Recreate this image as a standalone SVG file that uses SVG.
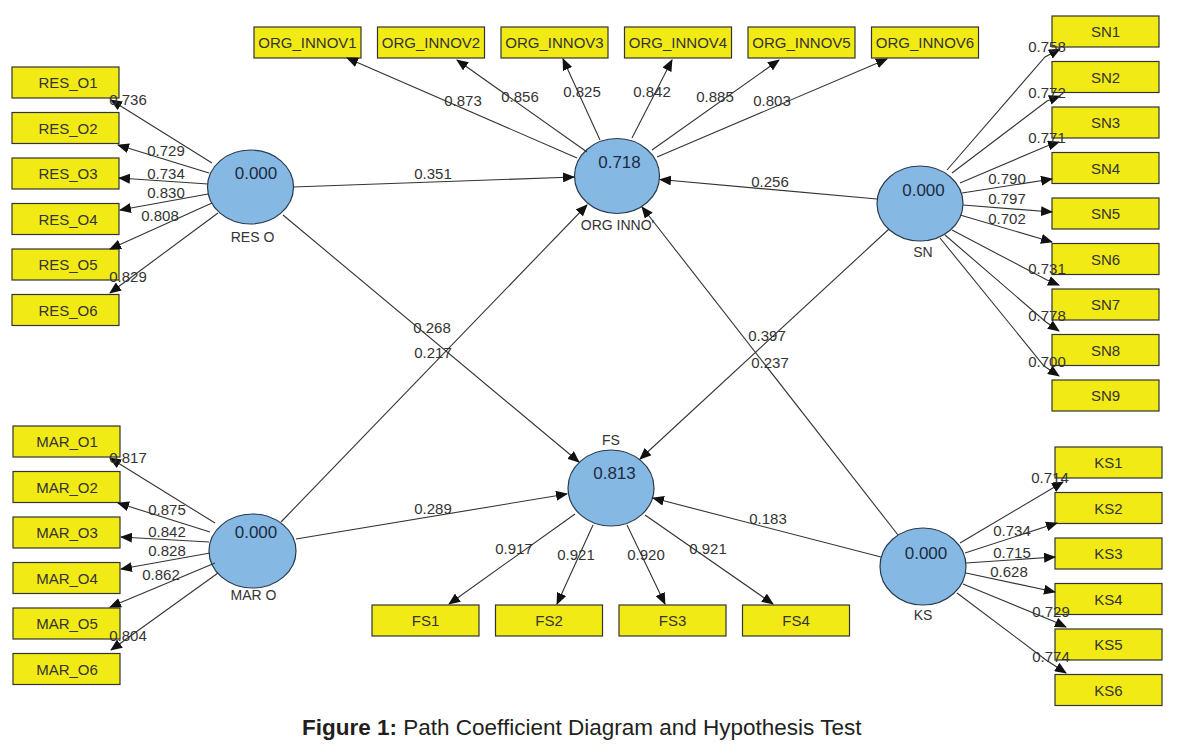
<svg xmlns="http://www.w3.org/2000/svg" width="1177" height="754" viewBox="0 0 1177 754">
<style>
.box{fill:#f2ea14;stroke:#333;stroke-width:1.2}
.lv{fill:#85b9e4;stroke:#2a3a4e;stroke-width:1.2}
.bt{font-family:"Liberation Sans",Arial,sans-serif;font-size:15px;fill:#333;text-anchor:middle;dominant-baseline:central}
.val{font-family:"Liberation Sans",Arial,sans-serif;font-size:17px;fill:#1d2b40;text-anchor:middle;dominant-baseline:central}
.nm{font-family:"Liberation Sans",Arial,sans-serif;font-size:14px;fill:#333;text-anchor:middle;dominant-baseline:central}
.num{font-family:"Liberation Sans",Arial,sans-serif;font-size:15px;fill:#333;text-anchor:middle;dominant-baseline:central}
.c{fill:none;stroke:#333;stroke-width:1.1;marker-end:url(#ah)}
.cap{font-family:"Liberation Sans",Arial,sans-serif;font-size:22.5px;fill:#231f20}
</style>
<defs>
<marker id="ah" markerWidth="12" markerHeight="10" refX="11" refY="5" orient="auto" markerUnits="userSpaceOnUse">
<path d="M0,0 L12,5 L0,10 z" fill="#111"/>
</marker>
</defs>
<rect width="1177" height="754" fill="#fff"/>

<!-- RES_O indicators -->
<g id="RES_O1"><rect class="box" x="12" y="67" width="107" height="31"/><text class="bt" x="68" y="82.5">RES_O1</text></g>
<g id="RES_O2"><rect class="box" x="12" y="112.5" width="107" height="31"/><text class="bt" x="68" y="128">RES_O2</text></g>
<g id="RES_O3"><rect class="box" x="12" y="158" width="107" height="31"/><text class="bt" x="68" y="173.5">RES_O3</text></g>
<g id="RES_O4"><rect class="box" x="12" y="203.5" width="107" height="31"/><text class="bt" x="68" y="219">RES_O4</text></g>
<g id="RES_O5"><rect class="box" x="12" y="249" width="107" height="31"/><text class="bt" x="68" y="264.5">RES_O5</text></g>
<g id="RES_O6"><rect class="box" x="12" y="294.5" width="107" height="31"/><text class="bt" x="68" y="310">RES_O6</text></g>

<!-- MAR_O indicators -->
<g id="MAR_O1"><rect class="box" x="13" y="426" width="107" height="31"/><text class="bt" x="67" y="441.5">MAR_O1</text></g>
<g id="MAR_O2"><rect class="box" x="13" y="471.5" width="107" height="31"/><text class="bt" x="67" y="487">MAR_O2</text></g>
<g id="MAR_O3"><rect class="box" x="13" y="517" width="107" height="31"/><text class="bt" x="67" y="532.5">MAR_O3</text></g>
<g id="MAR_O4"><rect class="box" x="13" y="562.5" width="107" height="31"/><text class="bt" x="67" y="578">MAR_O4</text></g>
<g id="MAR_O5"><rect class="box" x="13" y="608" width="107" height="31"/><text class="bt" x="67" y="623.5">MAR_O5</text></g>
<g id="MAR_O6"><rect class="box" x="13" y="653.5" width="107" height="31"/><text class="bt" x="67" y="669">MAR_O6</text></g>

<!-- ORG_INNOV indicators -->
<g id="ORG_INNOV1"><rect class="box" x="254" y="27" width="107" height="31"/><text class="bt" x="307.5" y="42.5">ORG_INNOV1</text></g>
<g id="ORG_INNOV2"><rect class="box" x="377.5" y="27" width="107" height="31"/><text class="bt" x="431" y="42.5">ORG_INNOV2</text></g>
<g id="ORG_INNOV3"><rect class="box" x="501" y="27" width="107" height="31"/><text class="bt" x="554.5" y="42.5">ORG_INNOV3</text></g>
<g id="ORG_INNOV4"><rect class="box" x="624.5" y="27" width="107" height="31"/><text class="bt" x="678" y="42.5">ORG_INNOV4</text></g>
<g id="ORG_INNOV5"><rect class="box" x="748" y="27" width="107" height="31"/><text class="bt" x="801.5" y="42.5">ORG_INNOV5</text></g>
<g id="ORG_INNOV6"><rect class="box" x="871.5" y="27" width="107" height="31"/><text class="bt" x="925" y="42.5">ORG_INNOV6</text></g>

<!-- SN indicators -->
<g id="SN1"><rect class="box" x="1052" y="16" width="107" height="31"/><text class="bt" x="1105.5" y="31.5">SN1</text></g>
<g id="SN2"><rect class="box" x="1052" y="61.5" width="107" height="31"/><text class="bt" x="1105.5" y="77">SN2</text></g>
<g id="SN3"><rect class="box" x="1052" y="107" width="107" height="31"/><text class="bt" x="1105.5" y="122.5">SN3</text></g>
<g id="SN4"><rect class="box" x="1052" y="152.5" width="107" height="31"/><text class="bt" x="1105.5" y="168">SN4</text></g>
<g id="SN5"><rect class="box" x="1052" y="198" width="107" height="31"/><text class="bt" x="1105.5" y="213.5">SN5</text></g>
<g id="SN6"><rect class="box" x="1052" y="243.5" width="107" height="31"/><text class="bt" x="1105.5" y="259">SN6</text></g>
<g id="SN7"><rect class="box" x="1052" y="289" width="107" height="31"/><text class="bt" x="1105.5" y="304.5">SN7</text></g>
<g id="SN8"><rect class="box" x="1052" y="334.5" width="107" height="31"/><text class="bt" x="1105.5" y="350">SN8</text></g>
<g id="SN9"><rect class="box" x="1052" y="380" width="107" height="31"/><text class="bt" x="1105.5" y="395.5">SN9</text></g>

<!-- FS indicators -->
<g id="FS1"><rect class="box" x="372" y="605" width="107" height="31"/><text class="bt" x="425.5" y="620.5">FS1</text></g>
<g id="FS2"><rect class="box" x="495.5" y="605" width="107" height="31"/><text class="bt" x="549" y="620.5">FS2</text></g>
<g id="FS3"><rect class="box" x="619" y="605" width="107" height="31"/><text class="bt" x="672.5" y="620.5">FS3</text></g>
<g id="FS4"><rect class="box" x="742.5" y="605" width="107" height="31"/><text class="bt" x="796" y="620.5">FS4</text></g>

<!-- KS indicators -->
<g id="KS1"><rect class="box" x="1055" y="447" width="107" height="31"/><text class="bt" x="1108.5" y="462.5">KS1</text></g>
<g id="KS2"><rect class="box" x="1055" y="492.5" width="107" height="31"/><text class="bt" x="1108.5" y="508">KS2</text></g>
<g id="KS3"><rect class="box" x="1055" y="538" width="107" height="31"/><text class="bt" x="1108.5" y="553.5">KS3</text></g>
<g id="KS4"><rect class="box" x="1055" y="583.5" width="107" height="31"/><text class="bt" x="1108.5" y="599">KS4</text></g>
<g id="KS5"><rect class="box" x="1055" y="629" width="107" height="31"/><text class="bt" x="1108.5" y="644.5">KS5</text></g>
<g id="KS6"><rect class="box" x="1055" y="674.5" width="107" height="31"/><text class="bt" x="1108.5" y="690">KS6</text></g>

<!-- Latent variables -->
<g id="RES_O"><ellipse class="lv" cx="250.5" cy="187" rx="43" ry="37"/><text class="val" x="256" y="173">0.000</text><text class="nm" x="252.5" y="237">RES O</text></g>
<g id="ORG_INNOV"><ellipse class="lv" cx="617" cy="176" rx="42.5" ry="37.5"/><text class="val" x="619.5" y="162">0.718</text><text class="nm" x="617.5" y="224.5">ORG INNO'</text></g>
<g id="SN"><ellipse class="lv" cx="920" cy="203.5" rx="43" ry="37.5"/><text class="val" x="923.5" y="190">0.000</text><text class="nm" x="923" y="252">SN</text></g>
<g id="MAR_O"><ellipse class="lv" cx="252.5" cy="551" rx="43.5" ry="37"/><text class="val" x="256" y="532">0.000</text><text class="nm" x="253.5" y="595">MAR O</text></g>
<g id="FS"><ellipse class="lv" cx="611" cy="488" rx="43" ry="38"/><text class="val" x="614.5" y="473.5">0.813</text><text class="nm" x="611" y="440">FS</text></g>
<g id="KS"><ellipse class="lv" cx="923" cy="566.5" rx="43" ry="38.5"/><text class="val" x="926" y="553">0.000</text><text class="nm" x="923" y="615">KS</text></g>

<g id="connectors">
<!-- structural paths -->
<path class="c" d="M293,187 L574,177"/>
<path class="c" d="M877,199 L660,179.5"/>
<path class="c" d="M283,215 L579,462"/>
<path class="c" d="M281,522 L587,205"/>
<path class="c" d="M889,229 L640,459"/>
<path class="c" d="M898,535 L642,207"/>
<path class="c" d="M296,539 L567,494"/>
<path class="c" d="M881,557 L653,498"/>
<!-- RES_O -->
<path class="c" d="M212,163 L111,100"/>
<path class="c" d="M209,173 L118,145"/>
<path class="c" d="M208,184 L119,178"/>
<path class="c" d="M208,194 L120,210"/>
<path class="c" d="M212,203 L110,249"/>
<path class="c" d="M218,213 L110,293"/>
<!-- MAR_O -->
<path class="c" d="M215,523 L110,458"/>
<path class="c" d="M210,532 L118,503"/>
<path class="c" d="M209,542 L121,537"/>
<path class="c" d="M210,553 L121,569"/>
<path class="c" d="M215,563 L110,607"/>
<path class="c" d="M218,573 L111,650"/>
<!-- ORG_INNOV -->
<path class="c" d="M577,158 L347,58"/>
<path class="c" d="M587,152 L457,60"/>
<path class="c" d="M600,140 L563,59"/>
<path class="c" d="M632,138 L672,60"/>
<path class="c" d="M652,150 L779,60"/>
<path class="c" d="M657,157 L887,59"/>
<!-- SN -->
<path class="c" d="M947,170 L1045,57 L1060,49"/>
<path class="c" d="M952,173 L1047,101 L1060,96"/>
<path class="c" d="M960,183 L1047,146 L1059,142"/>
<path class="c" d="M962,193 L1052,179"/>
<path class="c" d="M963,205 L1052,212"/>
<path class="c" d="M960,215 L1052,242"/>
<path class="c" d="M952,230 L1047,280 L1059,285"/>
<path class="c" d="M945,235 L1046,322 L1059,331"/>
<path class="c" d="M940,238 L1044,366 L1059,376"/>
<!-- FS -->
<path class="c" d="M575,514 L449,604"/>
<path class="c" d="M593,525 L557,604"/>
<path class="c" d="M627,525 L665,604"/>
<path class="c" d="M645,515 L773,604"/>
<!-- KS -->
<path class="c" d="M960,543 L1063,482"/>
<path class="c" d="M965,553 L1057,523"/>
<path class="c" d="M966,563 L1055,557"/>
<path class="c" d="M966,573 L1055,592"/>
<path class="c" d="M963,584 L1053,621 L1066,627"/>
<path class="c" d="M957,593 L1046,660 L1066,673"/>

<!-- labels -->
<text class="num" x="433" y="173">0.351</text>
<text class="num" x="770" y="181">0.256</text>
<text class="num" x="432" y="327">0.268</text>
<text class="num" x="433" y="352">0.217</text>
<text class="num" x="767" y="335">0.397</text>
<text class="num" x="770" y="362">0.237</text>
<text class="num" x="433" y="508">0.289</text>
<text class="num" x="768" y="518">0.183</text>

<text class="num" x="128" y="99">0.736</text>
<text class="num" x="166" y="150">0.729</text>
<text class="num" x="166" y="173">0.734</text>
<text class="num" x="166" y="192">0.830</text>
<text class="num" x="160" y="215">0.808</text>
<text class="num" x="128" y="276">0.829</text>

<text class="num" x="128" y="457">0.817</text>
<text class="num" x="167" y="509">0.875</text>
<text class="num" x="167" y="531">0.842</text>
<text class="num" x="167" y="550">0.828</text>
<text class="num" x="161" y="574">0.862</text>
<text class="num" x="128" y="635">0.804</text>

<text class="num" x="463" y="100">0.873</text>
<text class="num" x="520" y="96">0.856</text>
<text class="num" x="582" y="91">0.825</text>
<text class="num" x="652" y="91">0.842</text>
<text class="num" x="715" y="96">0.885</text>
<text class="num" x="772" y="100">0.803</text>

<text class="num" x="1047" y="46">0.758</text>
<text class="num" x="1047" y="92">0.772</text>
<text class="num" x="1047" y="137">0.771</text>
<text class="num" x="1007" y="178">0.790</text>
<text class="num" x="1007" y="198">0.797</text>
<text class="num" x="1007" y="218">0.702</text>
<text class="num" x="1047" y="268">0.731</text>
<text class="num" x="1047" y="315">0.778</text>
<text class="num" x="1047" y="361">0.700</text>

<text class="num" x="514" y="548">0.917</text>
<text class="num" x="576" y="554">0.921</text>
<text class="num" x="646" y="554">0.920</text>
<text class="num" x="708" y="548">0.921</text>

<text class="num" x="1050" y="477">0.714</text>
<text class="num" x="1012" y="530">0.734</text>
<text class="num" x="1012" y="552">0.715</text>
<text class="num" x="1009" y="571">0.628</text>
<text class="num" x="1051" y="611">0.729</text>
<text class="num" x="1051" y="656">0.774</text>
</g>

<text class="cap" x="302" y="735"><tspan font-weight="bold">Figure 1:</tspan> Path Coefficient Diagram and Hypothesis Test</text>
</svg>
